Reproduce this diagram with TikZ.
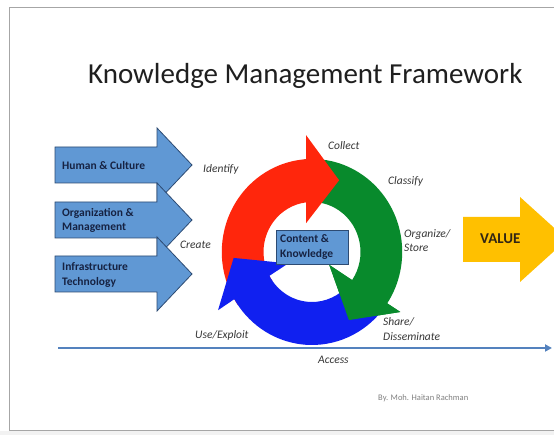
\documentclass[tikz,border=0pt]{standalone}
\usepackage{fontspec}
\setmainfont{Carlito}
\usetikzlibrary{arrows.meta}
\definecolor{kmred}{RGB}{255,38,12}
\definecolor{kmgreen}{RGB}{8,138,44}
\definecolor{kmblue}{RGB}{16,32,240}
\definecolor{kmlight}{RGB}{96,152,212}
\definecolor{kmedge}{RGB}{45,75,115}
\definecolor{kmnavy}{RGB}{22,34,66}
\definecolor{kmgold}{RGB}{255,192,0}
\definecolor{kmline}{RGB}{84,130,190}
\definecolor{kmlabel}{RGB}{55,55,55}
\definecolor{kmvtext}{RGB}{50,38,20}
\begin{document}
\begin{tikzpicture}[x=1pt,y=1pt,
  sidearrow/.style={fill=kmlight, draw=kmedge, line width=0.8pt, line join=miter},
  sidetext/.style={font=\fontsize{11.5}{14.5}\selectfont\bfseries, text=kmnavy, anchor=base west, inner sep=0pt},
  steplabel/.style={font=\fontsize{11.5}{14.5}\selectfont\itshape, text=kmlabel, anchor=base west, inner sep=0pt},
]
\useasboundingbox (0,0) rectangle (554,435);
\begin{scope}
\clip (0,0) rectangle (554,435);
\fill[white] (0,0) rectangle (554,435);
\fill[black!5] (0,0) rectangle (554,4);
\draw[black!35, line width=1pt] (600,4) -- (9,4) -- (9,427) -- (600,427);

% title
\node[font=\fontsize{29}{32}\selectfont, text=black!88, anchor=base west, inner sep=0pt] (title) at (88,351) {Knowledge Management Framework};

% left arrows
\foreach \yc in {270,215,161}{
  \path[sidearrow] (55,\yc+18) -- (157,\yc+18) -- (157,\yc+37) -- (192,\yc) -- (157,\yc-37) -- (157,\yc-18) -- (55,\yc-18) -- cycle;
}
\node[sidetext] (hc) at (62,265.5) {Human \& Culture};
\node[sidetext] (om1) at (62,218) {Organization \&};
\node[sidetext] (om2) at (62,204) {Management};
\node[sidetext] (it1) at (62,164) {Infrastructure};
\node[sidetext] (it2) at (62,149) {Technology};

% cycle
\begin{scope}[shift={(312,183)}, xscale=0.97]
  % green
  \fill[kmgreen] (95:93pt) arc[start angle=95, end angle=-33.5, radius=93pt]
     -- (-33.4:109pt) -- (-60.8:78pt) -- (-36:22pt) -- (-34.2:50pt)
     arc[start angle=-34.2, end angle=95, radius=50pt] -- cycle;
  % red
  \fill[kmred] (215:93pt) arc[start angle=215, end angle=93.7, radius=93pt]
     -- (93:117pt) -- (68.7:77pt) -- (101.7:29.6pt) -- (96.9:50pt)
     arc[start angle=96.9, end angle=215, radius=50pt] -- cycle;
  % blue
  \fill[kmblue] (-40:93pt) arc[start angle=-40, end angle=-149.5, radius=93pt]
     -- (211:113pt) -- (184.2:81pt) -- (205:27pt) -- (-151.5:50pt)
     arc[start angle=-151.5, end angle=-40, radius=50pt] -- cycle;
  % green head on top
  \fill[kmgreen] (-33.4:109pt) -- (-60.8:78pt) -- (-36:22pt) -- cycle;
\end{scope}

\node[fill=kmlight, draw=kmedge, line width=0.8pt, minimum width=72pt, minimum height=34pt, inner sep=0pt] (ck) at (312,188) {};
\node[sidetext] (ck1) at (280,192) {Content \&};
\node[sidetext] (ck2) at (280,177.5) {Knowledge};

% value arrow
\fill[kmgold] (463,218) -- (520,218) -- (520,238) -- (567,195.5) -- (520,153) -- (520,173) -- (463,173) -- cycle;
\node[font=\fontsize{15}{17}\selectfont\bfseries, text=kmvtext, anchor=base west, inner sep=0pt] (value) at (480,191.7) {VALUE};

% access line
\coordinate (accs) at (58,87);
\coordinate (acce) at (552,87);
\draw[kmline, line width=2pt, -{Triangle[length=7pt,width=7pt]}] (accs) -- (acce);

% labels
\node[steplabel] (identify) at (203,262) {Identify};
\node[steplabel] (create) at (180,186) {Create};
\node[steplabel] (collect) at (328,285.5) {Collect};
\node[steplabel] (classify) at (388,250.5) {Classify};
\node[steplabel] (org1) at (404,197.5) {Organize/};
\node[steplabel] (org2) at (404,183.5) {Store};
\node[steplabel] (share1) at (383,109.5) {Share/};
\node[steplabel] (share2) at (383,94.5) {Disseminate};
\node[steplabel] (use) at (195,96.5) {Use/Exploit};
\node[steplabel] (access) at (318,71.5) {Access};
\node[font=\fontsize{8.5}{10}\selectfont, text=black!50, anchor=base west, inner sep=0pt] (by) at (378,34) {By. Moh. Haitan Rachman};
\end{scope}
\end{tikzpicture}
\end{document}
